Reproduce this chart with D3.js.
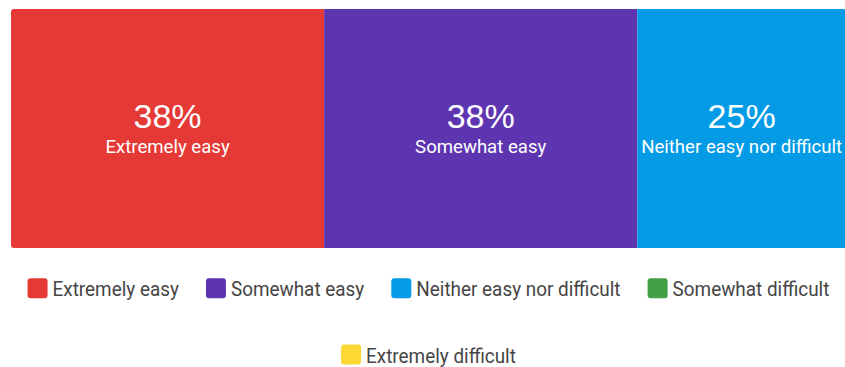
<!DOCTYPE html>
<html>
<head>
<meta charset="utf-8">
<script src="https://cdn.jsdelivr.net/npm/d3@7"></script>
<style>
  html, body { margin: 0; padding: 0; background: #fff; }
  svg { display: block; font-family: Roboto, "Noto Sans", sans-serif; }
  .pct { font-family: "Liberation Sans", Arial, sans-serif; }
</style>
</head>
<body>
<svg id="chart" width="845" height="367"></svg>
<script>
// Survey answers: response counts per option
const categories = ["Extremely easy", "Somewhat easy", "Neither easy nor difficult", "Somewhat difficult", "Extremely difficult"];
const counts = [3, 3, 2, 0, 0];
const colors = ["#E53935", "#5E35B1", "#039BE5", "#43A047", "#FDD835"];

const svg = d3.select("#chart");

const total = d3.sum(counts);
const barLeft = 11, barRight = 846, barTop = 9, barBottom = 248;

// Cumulative stacking of the single 100% bar
const stack = [];
let acc = 0;
counts.forEach((c, i) => {
  stack.push({ name: categories[i], count: c, color: colors[i], x0: acc, x1: acc + c });
  acc += c;
});

const x = d3.scaleLinear().domain([0, total]).range([barLeft, barRight]);

const clipId = "barClip";
svg.append("defs").append("clipPath").attr("id", clipId)
  .append("rect")
  .attr("x", barLeft).attr("y", barTop)
  .attr("width", barRight - barLeft).attr("height", barBottom - barTop)
  .attr("rx", 3).attr("ry", 3);

const bar = svg.append("g").attr("clip-path", `url(#${clipId})`);
const visible = stack.filter(d => d.count > 0);

bar.selectAll("rect.seg")
  .data(visible)
  .join("rect")
  .attr("class", "seg")
  .attr("x", d => x(d.x0))
  .attr("y", barTop)
  .attr("width", d => x(d.x1) - x(d.x0))
  .attr("height", barBottom - barTop)
  .attr("fill", d => d.color);

const midY = (barTop + barBottom) / 2;
const labels = svg.selectAll("g.lbl")
  .data(visible)
  .join("g")
  .attr("class", "lbl")
  .attr("transform", d => `translate(${(x(d.x0) + x(d.x1)) / 2},0)`);

labels.append("text")
  .attr("class", "pct")
  .attr("y", midY - 0.5)
  .attr("text-anchor", "middle")
  .attr("fill", "#fff")
  .attr("font-size", 34)
  .text(d => Math.round(d.count / total * 100) + "%");

labels.append("text")
  .attr("y", midY + 24.5)
  .attr("text-anchor", "middle")
  .attr("fill", "#fff")
  .attr("font-size", 18.6)
  .text(d => d.name);

// Legend: centred, wrapping rows; labels set in a slightly condensed face
const legendCenter = (barLeft + barRight) / 2;
const sw = 20, swGap = 5, itemGap = 27, rowYs = [288.3, 354.6];
const squeeze = 0.9;
const maxRowW = barRight - barLeft;
const legend = svg.append("g").attr("class", "legend");

const items = categories.map((name, i) => {
  const g = legend.append("g");
  const t = g.append("text").attr("font-size", 21).attr("fill", "#454545").text(name);
  return { name, color: colors[i], g, w: sw + swGap + t.node().getComputedTextLength() * squeeze };
});

const rows = [[]];
let rowW = 0;
items.forEach(it => {
  const add = (rows[rows.length - 1].length ? itemGap : 0) + it.w;
  if (rowW + add > maxRowW && rows[rows.length - 1].length) {
    rows.push([it]); rowW = it.w;
  } else { rows[rows.length - 1].push(it); rowW += add; }
});

rows.forEach((row, r) => {
  const rowWidth = d3.sum(row, d => d.w) + itemGap * (row.length - 1);
  let cx = legendCenter - rowWidth / 2;
  const cy = rowYs[r];
  row.forEach(it => {
    legend.append("rect")
      .attr("x", cx).attr("y", cy - sw / 2)
      .attr("width", sw).attr("height", sw)
      .attr("rx", 3).attr("fill", it.color);
    it.g.attr("transform", `translate(${cx + sw + swGap},${cy + 8}) scale(${squeeze},1)`);
    cx += it.w + itemGap;
  });
});
</script>
</body>
</html>
